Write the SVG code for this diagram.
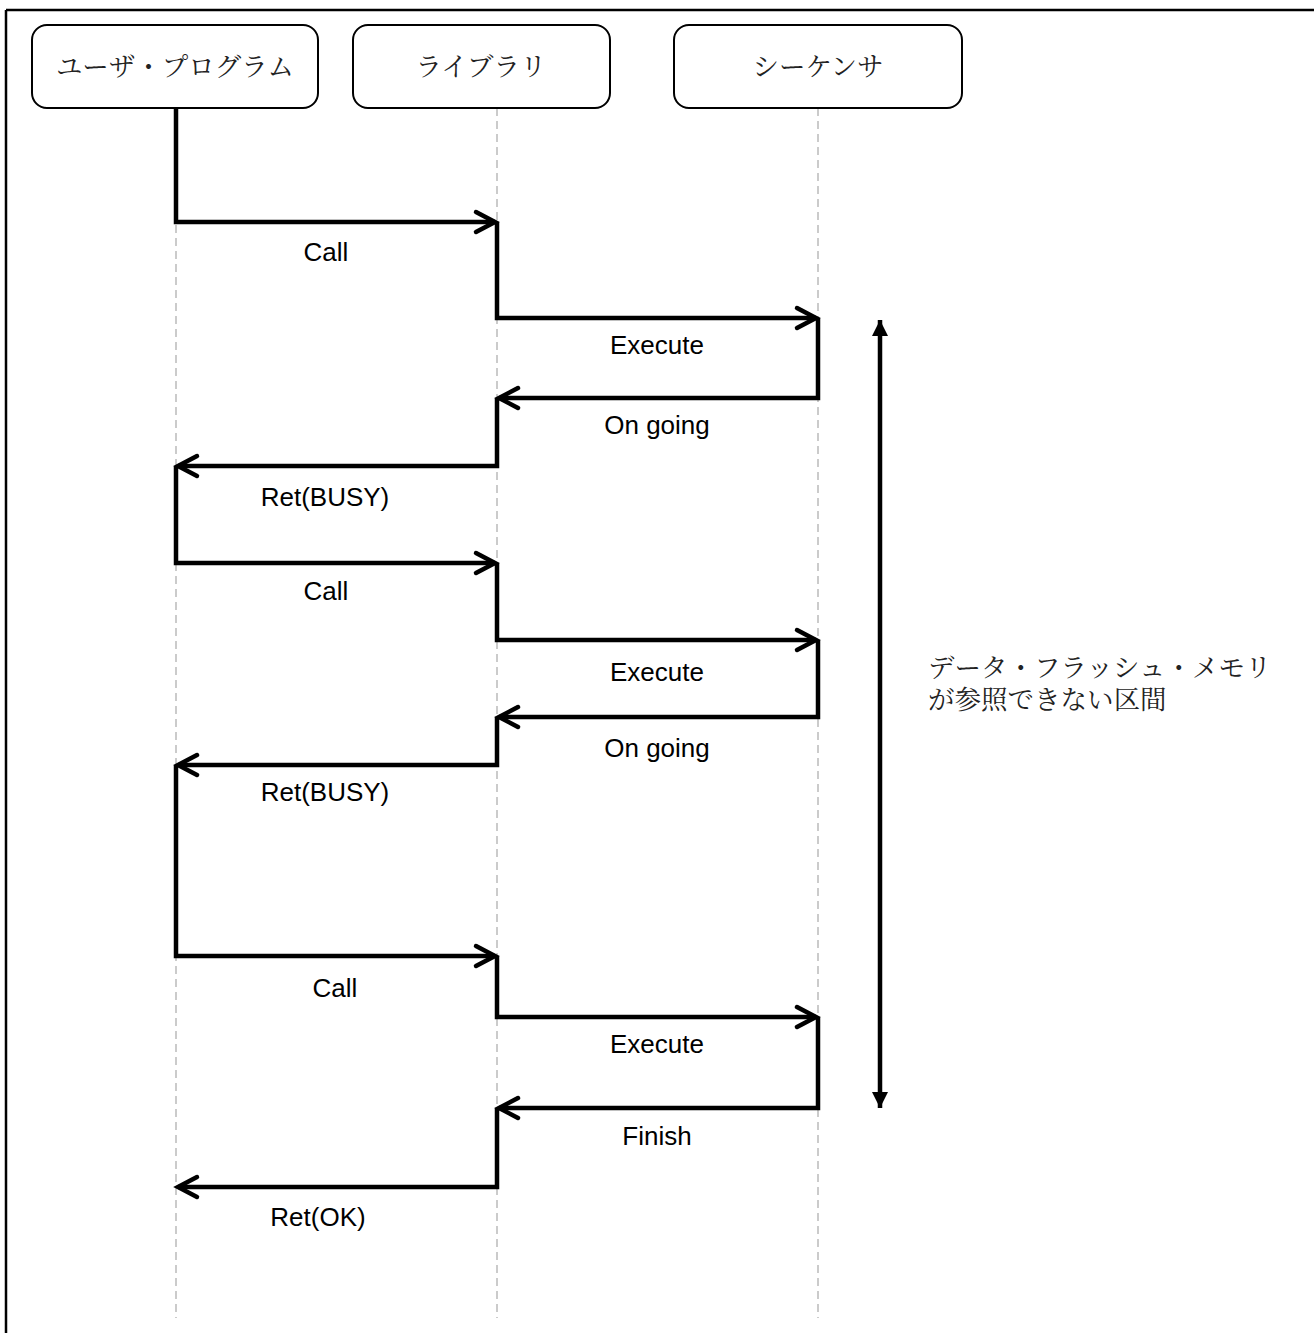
<svg xmlns="http://www.w3.org/2000/svg" width="1314" height="1333" viewBox="0 0 1314 1333">
<style>
.box{fill:#fff;stroke:#000;stroke-width:2}
.jp{font-family:"Liberation Serif","Noto Serif CJK JP","Noto Sans CJK JP",serif;font-size:26.5px;fill:#222}
.lbl{font-family:"Liberation Sans",Arial,sans-serif;font-size:26px;fill:#000;text-anchor:middle}
.life{stroke:#bbb;stroke-width:1.5;stroke-dasharray:8 5;fill:none}
.msg{stroke:#000;stroke-width:4.5;fill:none;stroke-linejoin:miter}
.head{stroke:#000;stroke-width:4.5;fill:none;stroke-linecap:round;stroke-linejoin:miter}
</style>
<defs>
<marker id="tri" viewBox="0 0 16 16" refX="16" refY="8" markerWidth="16" markerHeight="16" markerUnits="userSpaceOnUse" orient="auto-start-reverse">
<path d="M0,0 L16,8 L0,16 Z" fill="#000"/>
</marker>
</defs>
<rect width="1314" height="1333" fill="#fff"/>
<g id="frame">
<line x1="6" y1="10" x2="1314" y2="10" stroke="#000" stroke-width="2.5"/>
<line x1="6" y1="10" x2="6" y2="1333" stroke="#000" stroke-width="2.5"/>
</g>
<g id="lifelines">
<line class="life" x1="176" y1="108" x2="176" y2="1318"/>
<line class="life" x1="497" y1="108" x2="497" y2="1318"/>
<line class="life" x1="818" y1="108" x2="818" y2="1318"/>
</g>
<g id="node-user">
<rect class="box" x="32" y="25" width="286" height="83" rx="15"/>
<text class="jp" x="175" y="76" text-anchor="middle">ユーザ・プログラム</text>
</g>
<g id="node-library">
<rect class="box" x="353" y="25" width="257" height="83" rx="15"/>
<text class="jp" x="481" y="76" text-anchor="middle">ライブラリ</text>
</g>
<g id="node-sequencer">
<rect class="box" x="674" y="25" width="288" height="83" rx="15"/>
<text class="jp" x="818" y="76" text-anchor="middle">シーケンサ</text>
</g>
<g id="connectors">
<path class="msg" d="M176,108 V222 H495"/>
<path class="head" d="M476,212 L495,222 L476,232"/>
<path class="msg" d="M497,222 V318 H816"/>
<path class="head" d="M797,308 L816,318 L797,328"/>
<path class="msg" d="M818,318 V398 H499"/>
<path class="head" d="M518,388 L499,398 L518,408"/>
<path class="msg" d="M497,398 V466 H178"/>
<path class="head" d="M197,456 L178,466 L197,476"/>
<path class="msg" d="M176,466 V563 H495"/>
<path class="head" d="M476,553 L495,563 L476,573"/>
<path class="msg" d="M497,563 V640 H816"/>
<path class="head" d="M797,630 L816,640 L797,650"/>
<path class="msg" d="M818,640 V717 H499"/>
<path class="head" d="M518,707 L499,717 L518,727"/>
<path class="msg" d="M497,717 V765 H178"/>
<path class="head" d="M197,755 L178,765 L197,775"/>
<path class="msg" d="M176,765 V956 H495"/>
<path class="head" d="M476,946 L495,956 L476,966"/>
<path class="msg" d="M497,956 V1017 H816"/>
<path class="head" d="M797,1007 L816,1017 L797,1027"/>
<path class="msg" d="M818,1017 V1108 H499"/>
<path class="head" d="M518,1098 L499,1108 L518,1118"/>
<path class="msg" d="M497,1108 V1187 H178"/>
<path class="head" d="M197,1177 L178,1187 L197,1197"/>
<line x1="880" y1="320" x2="880" y2="1108" stroke="#000" stroke-width="4.5" marker-start="url(#tri)" marker-end="url(#tri)"/>
</g>
<g id="labels">
<text class="lbl" x="326" y="261">Call</text>
<text class="lbl" x="657" y="354">Execute</text>
<text class="lbl" x="657" y="434">On going</text>
<text class="lbl" x="325" y="506">Ret(BUSY)</text>
<text class="lbl" x="326" y="600">Call</text>
<text class="lbl" x="657" y="681">Execute</text>
<text class="lbl" x="657" y="757">On going</text>
<text class="lbl" x="325" y="801">Ret(BUSY)</text>
<text class="lbl" x="335" y="997">Call</text>
<text class="lbl" x="657" y="1053">Execute</text>
<text class="lbl" x="657" y="1145">Finish</text>
<text class="lbl" x="318" y="1226">Ret(OK)</text>
</g>
<g id="note">
<text class="jp" x="928" y="677">データ・フラッシュ・メモリ</text>
<text class="jp" x="928" y="709">が参照できない区間</text>
</g>
</svg>
